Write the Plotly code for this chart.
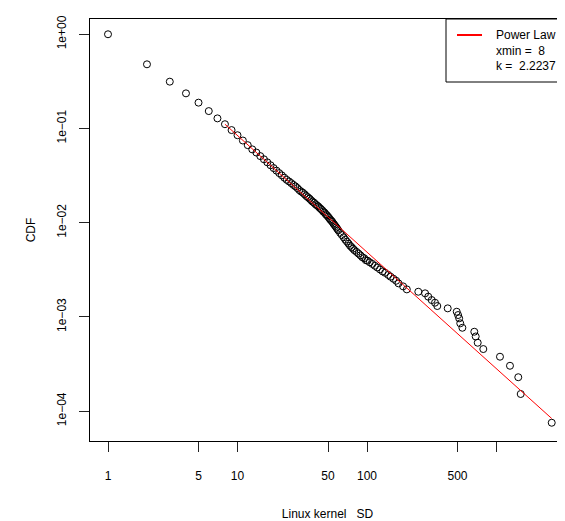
import plotly.graph_objects as go

# ---- data ----
cdf_x = [1, 2, 3, 4, 5, 6, 7, 8, 9, 10, 11, 12, 13, 14, 15, 16, 17, 18, 19, 20,
         21, 22, 23, 24, 25, 26, 27, 28, 29, 30, 31, 32, 33, 34, 35, 36, 37, 38, 39, 40,
         41, 42, 43, 44, 45, 46, 47, 48, 49, 50, 51, 52, 53, 54, 55, 56, 57, 58, 59, 60,
         62, 64, 66, 68, 70, 72, 74, 76, 78, 80, 83, 86, 89, 92, 95, 98, 101, 105, 110, 115,
         120, 126, 132, 138, 146, 152, 160, 168, 175, 190, 203, 249, 281, 297, 316, 335, 349, 420,
         493, 505, 515, 525, 545, 674, 691, 716, 791, 1064, 1271, 1473, 1538, 2670]
cdf_y = [1.0, 0.48, 0.314, 0.236, 0.188, 0.153, 0.128, 0.111, 0.0962, 0.0848,
         0.0745, 0.0665, 0.0600, 0.0555, 0.0509, 0.0471, 0.0437, 0.0407, 0.0380, 0.0357,
         0.0336, 0.0318, 0.0300, 0.0285, 0.0274, 0.0263, 0.0252, 0.0243, 0.0233, 0.0222,
         0.0214, 0.0208, 0.0200, 0.0192, 0.0186, 0.0180, 0.0173, 0.0167, 0.0163, 0.0157,
         0.0153, 0.0149, 0.0144, 0.0140, 0.0136, 0.0131, 0.0128, 0.0123, 0.0120, 0.0116,
         0.0112, 0.0108, 0.0105, 0.0102, 0.0098, 0.0095, 0.0092, 0.0089, 0.0086, 0.0083,
         0.0078, 0.0074, 0.0070, 0.0066, 0.0063, 0.0060, 0.0057, 0.0055, 0.0053, 0.0051,
         0.0049, 0.0047, 0.0045, 0.0043, 0.0042, 0.0040, 0.00395, 0.0038, 0.00365, 0.00349,
         0.00335, 0.00319, 0.00304, 0.00294, 0.00279, 0.00267, 0.00254, 0.00242, 0.00227, 0.00211,
         0.00196, 0.00185, 0.00178, 0.00164, 0.00151, 0.001415, 0.001305, 0.001233,
         0.001135, 0.001047, 0.000966, 0.000855, 0.000767, 0.000696, 0.00062, 0.000532,
         0.000456, 0.000378, 0.000303, 0.000229, 0.000152, 0.0000753]

fit_x = [8, 2670]
fit_y = [0.111, 0.0000835]

x_tickvals = [1, 5, 10, 50, 100, 500, 1000]
x_ticktext = ["1", "5", "10", "50", "100", "500", ""]
y_tickvals = [1, 0.1, 0.01, 0.001, 0.0001]
y_ticktext = ["1e+00", "1e\u221201", "1e\u221202", "1e\u221203", "1e\u221204"]

legend_lines = ["Power Law", "xmin =  8", "k =  2.2237"]

FONT = "Liberation Sans, Arial, Helvetica, sans-serif"

fig = go.Figure()
fig.add_trace(go.Scatter(
    x=cdf_x, y=cdf_y, mode="markers",
    marker=dict(symbol="circle-open", size=7, color="black", line=dict(width=1, color="black")),
    showlegend=False, hoverinfo="x+y"))
fig.add_trace(go.Scatter(
    x=fit_x, y=fit_y, mode="lines", line=dict(color="#ff0000", width=1),
    showlegend=False))

# the page body adds an 8px offset, so the figure is 8px smaller
OFF = 8
W, H = 565 - OFF, 521 - OFF
L, R, T, B = 90 - OFF, 0, 19 - OFF, 80
pw, ph = W - L - R, H - T - B

def px(xs):  # screen x -> paper
    return (xs - OFF - L) / pw

def py(ys):  # screen y -> paper
    return (H - B - (ys - OFF)) / ph

fig.update_layout(
    width=W, height=H,
    margin=dict(l=L, r=R, t=T, b=B, pad=0, autoexpand=False),
    paper_bgcolor="white", plot_bgcolor="white",
    font=dict(family=FONT, size=12, color="black"),
    showlegend=False,
    xaxis=dict(
        type="log", range=[-0.139, 3.529], automargin=False,
        tickvals=x_tickvals, ticktext=x_ticktext,
        ticks="outside", ticklen=10, tickwidth=1, tickcolor="#222222",
        ticklabelstandoff=14,
        showline=True, linecolor="black", linewidth=1, mirror=True,
        showgrid=False, zeroline=False,
        title=dict(text="Linux kernel   SD", standoff=31, font=dict(size=12)),
    ),
    yaxis=dict(
        type="log", range=[-4.317, 0.162], automargin=False,
        tickvals=y_tickvals, ticktext=y_ticktext, tickangle=-90,
        ticks="outside", ticklen=10, tickwidth=1, tickcolor="#222222",
        ticklabelstandoff=8,
        showline=True, linecolor="black", linewidth=1, mirror=False,
        showgrid=False, zeroline=False,
        title=dict(text="CDF", standoff=17, font=dict(size=12)),
    ),
)

# manual legend box (R style)
fig.add_shape(type="rect", xref="paper", yref="paper",
              x0=px(446), x1=px(580), y0=py(82), y1=py(19),
              line=dict(color="black", width=1), fillcolor="white", layer="above")
fig.add_shape(type="line", xref="paper", yref="paper",
              x0=px(457), x1=px(482), y0=py(35), y1=py(35),
              line=dict(color="#ff0000", width=2), layer="above")
for txt, yy in zip(legend_lines, [35, 51, 66]):
    fig.add_annotation(text=txt, xref="paper", yref="paper", x=px(494), y=py(yy),
                       xanchor="left", yanchor="middle", showarrow=False,
                       font=dict(size=12, family=FONT, color="black"))

fig.write_html("out.html")
